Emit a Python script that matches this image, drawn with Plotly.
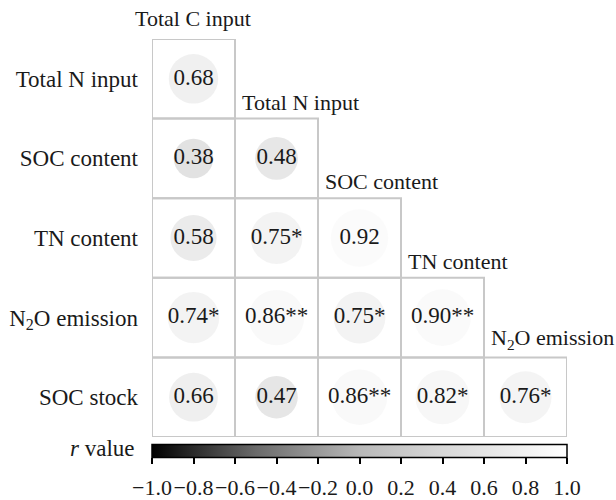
import plotly.graph_objects as go

# ---- data ----
row_labels = ["Total N input", "SOC content", "TN content", "N<sub>2</sub>O emission", "SOC stock"]
col_labels = ["Total C input", "Total N input", "SOC content", "TN content", "N<sub>2</sub>O emission"]
r_values = [
    [0.68],
    [0.38, 0.48],
    [0.58, 0.75, 0.92],
    [0.74, 0.86, 0.75, 0.90],
    [0.66, 0.47, 0.86, 0.82, 0.76],
]
sig_marks = [
    [""],
    ["", ""],
    ["", "*", ""],
    ["*", "**", "*", "**"],
    ["", "", "**", "*", "*"],
]
cb_tickvals = [-1.0, -0.8, -0.6, -0.4, -0.2, 0.0, 0.2, 0.4, 0.6, 0.8, 1.0]
cb_ticktext = ["\u22121.0", "\u22120.8", "\u22120.6", "\u22120.4", "\u22120.2", "0.0", "0.2", "0.4", "0.6", "0.8", "1.0"]

FONT = "Liberation Serif, Times New Roman, serif"
TXT = "#1a1a1a"
colorscale = [[0.0, "#000000"], [0.25, "#6a6a6a"], [0.5, "#b8b8b8"], [0.7, "#d8d8d8"],
              [0.85, "#ebebeb"], [1.0, "#ffffff"]]

xs, ys, vals, labels, sizes = [], [], [], [], []
for i, row in enumerate(r_values):
    for j, v in enumerate(row):
        xs.append(j)
        ys.append(i)
        vals.append(v)
        labels.append(f"{v:.2f}{sig_marks[i][j]}")
        sizes.append(27 + 33 * abs(v))

fig = go.Figure()

# cell boxes
for i, row in enumerate(r_values):
    for j, _ in enumerate(row):
        fig.add_shape(type="rect", xref="x", yref="y",
                      x0=j - 0.5, x1=j + 0.5, y0=i - 0.5, y1=i + 0.5,
                      line=dict(color="#c8c8c8", width=2), layer="below")

fig.add_trace(go.Scatter(
    x=xs, y=ys, mode="markers+text", text=labels,
    textposition="middle center",
    textfont=dict(family=FONT, size=23, color=TXT),
    marker=dict(size=sizes, color=vals, colorscale=colorscale, cmin=-1, cmax=1,
                line=dict(width=0),
                colorbar=dict(orientation="h", x=0.5, xanchor="center", xref="paper",
                              y=-2 / 418, yanchor="bottom", yref="paper",
                              len=1, lenmode="fraction", thickness=13,
                              xpad=0, ypad=0, outlinewidth=1.5, outlinecolor="black",
                              ticks="", showticklabels=False)),
    hoverinfo="skip", showlegend=False, cliponaxis=False,
))

# invisible trace to carry the colorbar tick axis
fig.add_trace(go.Scatter(x=cb_tickvals, y=[None] * len(cb_tickvals), xaxis="x2", yaxis="y",
                         mode="markers", hoverinfo="skip", showlegend=False))

# column headers
for j, lab in enumerate(col_labels):
    fig.add_annotation(x=j - 0.5, y=j - 0.5, xref="x", yref="y", text=lab,
                       xanchor="left", yanchor="bottom", showarrow=False,
                       xshift=-19 if j == 0 else 5, yshift=6 if j == 0 else 2,
                       font=dict(family=FONT, size=22, color=TXT))

fig.add_annotation(x=0, y=0, xref="paper", yref="paper", text="<i>r</i> value",
                   xanchor="right", yanchor="bottom", xshift=-15, yshift=-6, showarrow=False,
                   font=dict(family=FONT, size=23, color=TXT))

fig.update_layout(
    width=616, height=500,
    margin=dict(l=152, r=49, t=39, b=43, autoexpand=False),
    paper_bgcolor="white", plot_bgcolor="white",
    font=dict(family=FONT, size=23, color=TXT),
    xaxis=dict(range=[-0.5, 4.5], domain=[0, 1], showgrid=False, zeroline=False,
               showticklabels=False, ticks="", showline=False, automargin=False),
    yaxis=dict(range=[4.5, -0.5], domain=[20 / 418, 1], showgrid=False, zeroline=False,
               tickvals=list(range(len(row_labels))), ticktext=row_labels,
               ticks="", showline=False, ticklabelstandoff=13, automargin=False,
               tickfont=dict(family=FONT, size=23, color=TXT)),
    xaxis2=dict(overlaying="x", anchor="free", position=0, side="bottom",
                range=[-1, 1], domain=[0, 1], showgrid=False, zeroline=False, showline=False,
                tickvals=cb_tickvals, ticktext=cb_ticktext, tickangle=0, automargin=False,
                ticks="outside", ticklen=6, tickwidth=1.5, tickcolor="black",
                ticklabelstandoff=5,
                tickfont=dict(family=FONT, size=22, color=TXT)),
)

fig.write_html("out.html")
